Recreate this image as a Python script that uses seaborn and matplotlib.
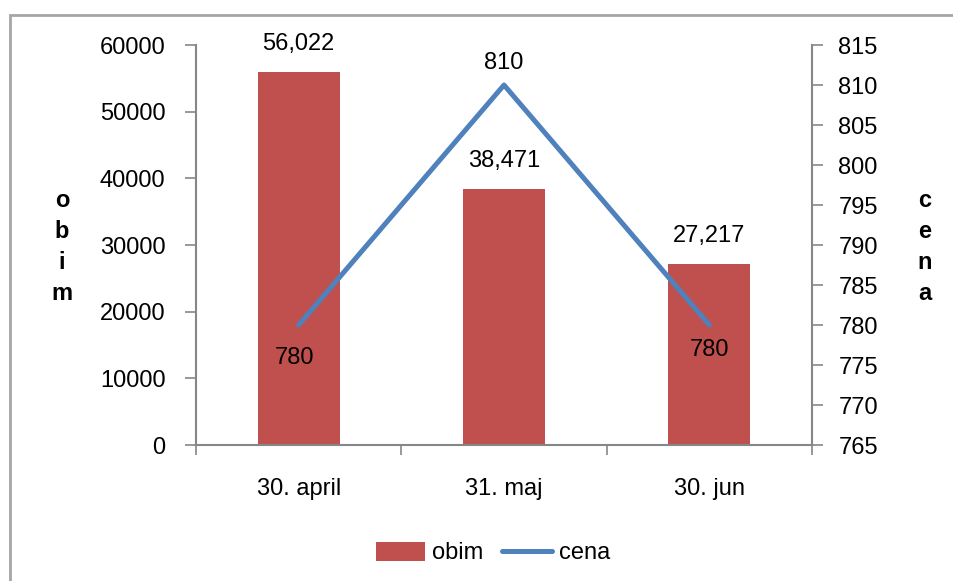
import matplotlib
matplotlib.use("Agg")
import matplotlib.pyplot as plt
import seaborn as sns
import pandas as pd
import numpy as np
from matplotlib.patches import Patch, Rectangle
from matplotlib.lines import Line2D

# ---- data ----
categories = ["30. april", "31. maj", "30. jun"]
obim = [56022, 38471, 27217]
cena = [780, 810, 780]
left_ticks = [0, 10000, 20000, 30000, 40000, 50000, 60000]
right_ticks = [765, 770, 775, 780, 785, 790, 795, 800, 805, 810, 815]

RED = "#C0504D"
BLUE = "#4F81BD"
GRAY = "#868686"

sns.set_theme(style="white")
plt.rcParams["font.family"] = ["Liberation Sans", "DejaVu Sans"]
plt.rcParams["text.color"] = "black"
plt.rcParams["xtick.labelcolor"] = "black"
plt.rcParams["ytick.labelcolor"] = "black"
FS = 17

df = pd.DataFrame({"datum": categories, "obim": obim, "cena": cena})

fig = plt.figure(figsize=(9.54, 5.81), dpi=100)
fig.patch.set_facecolor("white")
# outer frame (top and left visible, rest cropped)
fig.add_artist(Rectangle((10 / 954, -0.1), 1.2, 1 - 15 / 581 + 0.1,
                         transform=fig.transFigure, fill=False,
                         edgecolor="#A6A6A6", linewidth=2))

ax = fig.add_axes([196 / 954, 1 - 445 / 581, (812 - 196) / 954, 400 / 581])
sns.barplot(data=df, x="datum", y="obim", ax=ax, color=RED, width=0.4,
            saturation=1, edgecolor="none")
ax.set_ylim(0, 60000)
ax.set_xlim(-0.5, 2.5)
ax.set_yticks(left_ticks)
ax.set_yticklabels([str(t) for t in left_ticks], fontsize=FS, color="black")
ax.set_xlabel("")
ax.set_ylabel("")

# x ticks: marks at category boundaries, labels at centers
ax.set_xticks([-0.5, 0.5, 1.5, 2.5])
ax.set_xticklabels([])
ax.set_xticks(range(len(categories)), minor=True)
ax.set_xticklabels(categories, minor=True, fontsize=FS, color="black")
ax.tick_params(axis="x", which="major", direction="out", length=7,
               color=GRAY, width=1.2, bottom=True)
ax.tick_params(axis="x", which="minor", length=0, pad=24, bottom=True)
ax.tick_params(axis="y", direction="out", length=8, color=GRAY, width=1.2,
               pad=14, left=True)

for s in ["top", "right"]:
    ax.spines[s].set_visible(False)
for s in ["left", "bottom"]:
    ax.spines[s].set_color(GRAY)
    ax.spines[s].set_linewidth(1.5)

for c in ax.containers:
    ax.bar_label(c, labels=[f"{v:,}" for v in obim], padding=12, fontsize=FS,
                 color="black")

ax2 = ax.twinx()
sns.pointplot(data=df, x="datum", y="cena", ax=ax2, color=BLUE, markers="",
              linewidth=3.6)
ax2.set_xlim(-0.5, 2.5)
ax2.set_ylim(765, 815)
ax2.set_yticks(right_ticks)
ax2.set_yticklabels([str(t) for t in right_ticks], fontsize=FS, color="black")
ax2.set_ylabel("")
ax2.set_xlabel("")
ax2.tick_params(axis="y", direction="out", length=8, color=GRAY, width=1.2,
                pad=11, right=True)
ax2.tick_params(axis="x", which="both", length=0, labelbottom=False)
for s in ["top", "left", "bottom"]:
    ax2.spines[s].set_visible(False)
ax2.spines["right"].set_color(GRAY)
ax2.spines["right"].set_linewidth(1.5)

offsets = [-33, 22, -25]
for i, v in enumerate(cena):
    ax2.annotate(str(v), (i, v), xytext=(-3 if i == 0 else 0, offsets[i] * 0.72),
                 textcoords="offset points", ha="center", va="center",
                 fontsize=FS, color="black")

# stacked axis titles
fig.text(62 / 954, 1 - 247 / 581, "o\nb\ni\nm", ha="center", va="center",
         fontsize=FS, fontweight="bold", linespacing=1.45, color="black")
fig.text(925 / 954, 1 - 247 / 581, "c\ne\nn\na", ha="center", va="center",
         fontsize=FS, fontweight="bold", linespacing=1.45, color="black")

handles = [Patch(facecolor=RED, edgecolor="none"),
           Line2D([0], [0], color=BLUE, linewidth=3.6)]
fig.legend(handles, ["obim", "cena"], loc="center",
           bbox_to_anchor=(493 / 954, 1 - 553 / 581), ncol=2, frameon=False,
           fontsize=FS, handlelength=2.1, handleheight=0.9,
           handletextpad=0.3, columnspacing=0.8, labelcolor="black")

fig.savefig("out.png", dpi=100, facecolor="white")
